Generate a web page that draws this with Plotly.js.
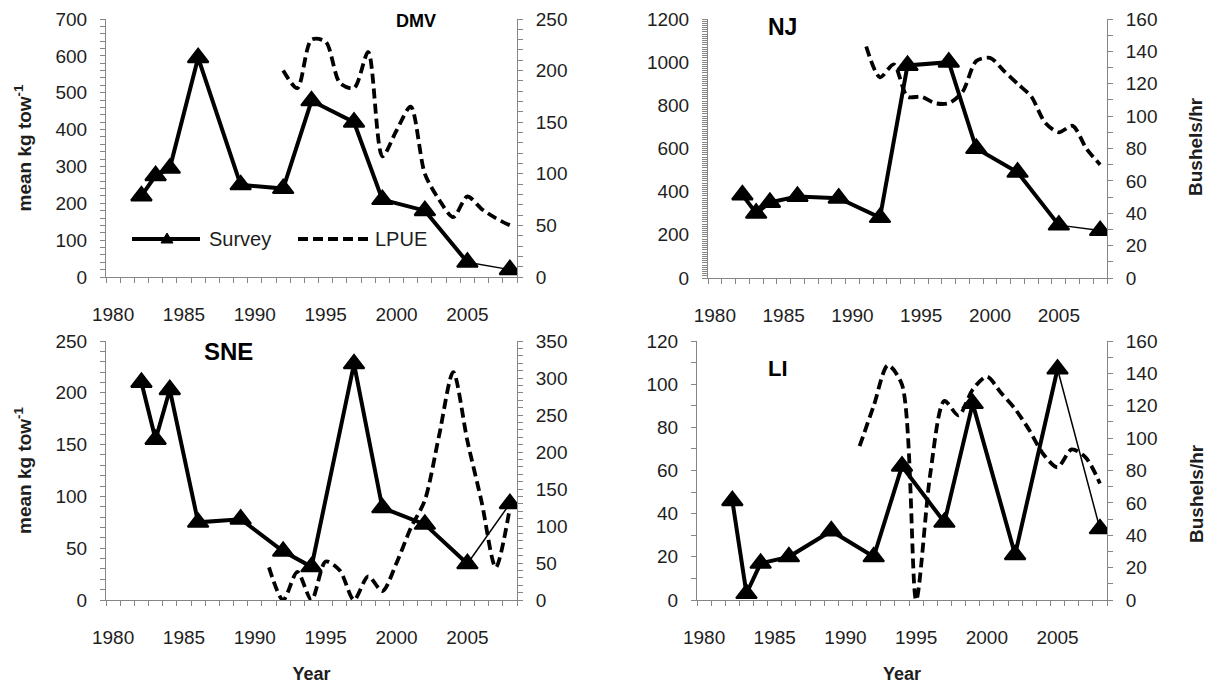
<!DOCTYPE html>
<html>
<head>
<meta charset="utf-8">
<script src="https://cdn.plot.ly/plotly-3.0.1.min.js"></script>
<style>
  html, body { margin: 0; padding: 0; background: #ffffff; }
  #chart { width: 1215px; height: 691px; }
</style>
</head>
<body>
<div id="chart"></div>
<script>
// Survey years (shared by all four regions)
const surveyYears = [1982, 1983, 1984, 1986, 1989, 1992, 1994, 1997, 1999, 2002, 2005, 2008];

// Survey index, mean kg per tow
const dmvSurvey = [220, 275, 295, 595, 250, 240, 478, 420, 210, 180, 40, 20];
const njSurvey  = [385, 300, 350, 378, 370, 280, 985, 1000, 600, 490, 245, 220];
const sneSurvey = [210, 155, 203, 75, 78, 47, 32, 228, 89, 73, 35, 93];
const liSurvey  = [46, 3, 17, 20, 32, 20, 62, 36, 91, 21, 107, 33];

// Commercial LPUE, bushels per hour
const dmvLpueYears = [1992, 1993, 1994, 1995, 1996, 1997, 1998, 1999, 2000, 2001, 2002, 2003, 2004, 2005, 2006, 2007, 2008];
const dmvLpue = [200, 183, 230, 228, 188, 183, 218, 117, 142, 165, 100, 75, 58, 78, 66, 57, 50];

const lpueYears = [1991, 1992, 1993, 1994, 1995, 1996, 1997, 1998, 1999, 2000, 2001, 2002, 2003, 2004, 2005, 2006, 2007, 2008];
const njLpue  = [143, 124, 132, 112, 112, 108, 108, 115, 134, 136, 128, 120, 112, 96, 90, 94, 80, 70];
const sneLpue = [44, 0, 38, 0, 52, 40, 0, 32, 12, 50, 97, 135, 222, 308, 215, 133, 44, 125];
const liLpue  = [95, 120, 145, 133, 0, 78, 123, 114, 130, 138, 128, 118, 105, 90, 82, 93, 88, 72];

// Axis tick labels and titles
const yearTicks = [1980, 1985, 1990, 1995, 2000, 2005];
const regionNames = ['DMV', 'NJ', 'SNE', 'LI'];
const seriesNames = ['Survey', 'LPUE'];
const leftTitle = '<b>mean kg tow<sup>-1</sup></b>';
const rightTitle = '<b>Bushels/hr</b>';
const xTitle = '<b>Year</b>';

const W = 1215, H = 691;
const px = v => v / W;
const py = v => 1 - v / H;

const GREY = '#868686';
const INK = '#1e1e1e';
const FONT = 'Liberation Sans, Arial, sans-serif';
const TICK = 19;

// Panel layout: plot box in pixels [left, right, top, bottom]
const panels = [
  { name: regionNames[0], survey: dmvSurvey, lYears: dmvLpueYears, lpue: dmvLpue,
    box: [106, 517, 19, 277], left: [0, 700, 100, 20], right: [0, 250, 50, 10],
    label: { x: 416, y: 21, size: 18 }, leftTitle: true, rightTitle: null, xTitle: false },
  { name: regionNames[1], survey: njSurvey, lYears: lpueYears, lpue: njLpue,
    box: [708, 1107, 19, 278], left: [0, 1200, 200, 10], right: [0, 160, 20, 10],
    label: { x: 782, y: 27, size: 23 }, leftTitle: false, rightTitle: 147, xTitle: false },
  { name: regionNames[2], survey: sneSurvey, lYears: lpueYears, lpue: sneLpue,
    box: [106, 517, 341, 600], left: [0, 250, 50, 10], right: [0, 350, 50, 10],
    label: { x: 228, y: 352, size: 24 }, leftTitle: true, rightTitle: null, xTitle: true },
  { name: regionNames[3], survey: liSurvey, lYears: lpueYears, lpue: liLpue,
    box: [697, 1107, 341, 600], left: [0, 120, 20, 10], right: [0, 160, 20, 10],
    label: { x: 778, y: 368, size: 22 }, leftTitle: false, rightTitle: 494, xTitle: true }
];

const traces = [];
const layout = {
  width: W, height: H,
  margin: { l: 0, r: 0, t: 0, b: 0 },
  paper_bgcolor: '#ffffff', plot_bgcolor: 'rgba(0,0,0,0)',
  showlegend: false,
  font: { family: FONT, color: INK, size: TICK },
  annotations: [], shapes: []
};

function yAxis(spec, extra) {
  return Object.assign({
    range: [spec[0], spec[1]], tickmode: 'linear', tick0: 0, dtick: spec[2],
    showline: true, linecolor: GREY, linewidth: 1,
    ticks: 'outside', ticklen: 5, tickcolor: GREY, tickwidth: 1,
    ticklabelstandoff: 9,
    minor: { tickmode: 'linear', tick0: 0, dtick: spec[3], ticks: 'outside', ticklen: 5, tickcolor: GREY, tickwidth: 1, showgrid: false },
    showgrid: false, zeroline: false, fixedrange: true,
    tickfont: { family: FONT, size: TICK, color: INK }
  }, extra);
}

panels.forEach((p, i) => {
  const xs = i === 0 ? '' : String(i + 1);
  const yl = i === 0 ? '' : String(2 * i + 1);
  const yr = String(2 * i + 2);
  const xRef = 'x' + xs, yLRef = 'y' + yl, yRRef = 'y' + yr;
  const [bx0, bx1, by0, by1] = p.box;

  const xa = {
    domain: [px(bx0), px(bx1)], anchor: yLRef,
    range: [1979.5, 2008.5],
    tickmode: 'array', tickvals: yearTicks, ticktext: yearTicks.map(String),
    ticks: '', ticklabelstandoff: 20,
    minor: { tickmode: 'linear', tick0: 1979.5, dtick: 1, ticks: 'outside', ticklen: 5, tickcolor: GREY, tickwidth: 1, showgrid: false },
    showline: true, linecolor: GREY, linewidth: 1,
    showgrid: false, zeroline: false, fixedrange: true,
    tickfont: { family: FONT, size: TICK, color: INK }
  };
  if (p.xTitle) xa.title = { text: xTitle, font: { family: FONT, size: 18, color: INK }, standoff: 20 };
  layout['xaxis' + xs] = xa;

  const ya = { domain: [py(by1), py(by0)], anchor: xRef, side: 'left' };
  if (p.leftTitle) ya.title = { text: leftTitle, font: { family: FONT, size: 19, color: INK }, standoff: 18 };
  layout['yaxis' + yl] = yAxis(p.left, ya);
  layout['yaxis' + yr] = yAxis(p.right, {
    domain: [py(by1), py(by0)], anchor: xRef, overlaying: yLRef, side: 'right'
  });

  if (p.rightTitle !== null) {
    layout.annotations.push({
      xref: 'paper', yref: 'paper', x: px(1196), y: py(p.rightTitle),
      xanchor: 'center', yanchor: 'middle', textangle: -90, showarrow: false,
      text: rightTitle, font: { family: FONT, size: 19, color: INK }
    });
  }

  // commercial LPUE (right axis), smoothed dashed line
  traces.push({
    type: 'scatter', mode: 'lines', name: seriesNames[1],
    x: p.lYears, y: p.lpue, xaxis: xRef, yaxis: yRRef,
    line: { color: '#000000', width: 3.8, dash: '10px,5px', shape: 'spline', smoothing: 0.8 },
    hoverinfo: 'x+y'
  });
  // survey line: heavy segments, last interval drawn with a light stroke
  const n = p.survey.length;
  traces.push({
    type: 'scatter', mode: 'lines', name: seriesNames[0],
    x: surveyYears.slice(0, n - 1), y: p.survey.slice(0, n - 1), xaxis: xRef, yaxis: yLRef,
    line: { color: '#000000', width: 4 }, hoverinfo: 'skip'
  });
  traces.push({
    type: 'scatter', mode: 'lines', name: seriesNames[0],
    x: surveyYears.slice(n - 2), y: p.survey.slice(n - 2), xaxis: xRef, yaxis: yLRef,
    line: { color: '#000000', width: 1.5 }, hoverinfo: 'skip'
  });
  traces.push({
    type: 'scatter', mode: 'markers', name: seriesNames[0],
    x: surveyYears, y: p.survey, xaxis: xRef, yaxis: yLRef,
    marker: { symbol: 'triangle-up', size: 18, color: '#000000', line: { color: '#000000', width: 2 } },
    hoverinfo: 'x+y'
  });

  layout.annotations.push({
    xref: 'paper', yref: 'paper', x: px(p.label.x), y: py(p.label.y),
    xanchor: 'center', yanchor: 'middle', showarrow: false,
    text: '<b>' + p.name + '</b>', font: { family: FONT, size: p.label.size, color: '#000000' }
  });
});

// legend drawn inside the DMV panel
const legY = 239;
layout.shapes.push(
  { type: 'line', xref: 'paper', yref: 'paper', x0: px(132), x1: px(200), y0: py(legY), y1: py(legY), line: { color: '#000000', width: 4 } },
  { type: 'path', xref: 'paper', yref: 'paper', fillcolor: '#000000', line: { color: '#000000', width: 1 },
    path: 'M' + px(161) + ',' + py(legY + 4) + ' L' + px(173) + ',' + py(legY + 4) + ' L' + px(167) + ',' + py(legY - 6) + ' Z' },
  { type: 'line', xref: 'paper', yref: 'paper', x0: px(298), x1: px(368), y0: py(legY), y1: py(legY), line: { color: '#000000', width: 3.8, dash: '10px,5px' } }
);
layout.annotations.push(
  { xref: 'paper', yref: 'paper', x: px(207), y: py(legY), xanchor: 'left', yanchor: 'middle', showarrow: false,
    text: seriesNames[0], font: { family: FONT, size: 20, color: INK } },
  { xref: 'paper', yref: 'paper', x: px(373), y: py(legY), xanchor: 'left', yanchor: 'middle', showarrow: false,
    text: seriesNames[1], font: { family: FONT, size: 20, color: INK } }
);

Plotly.newPlot('chart', traces, layout, { staticPlot: true, displayModeBar: false });
</script>
</body>
</html>
